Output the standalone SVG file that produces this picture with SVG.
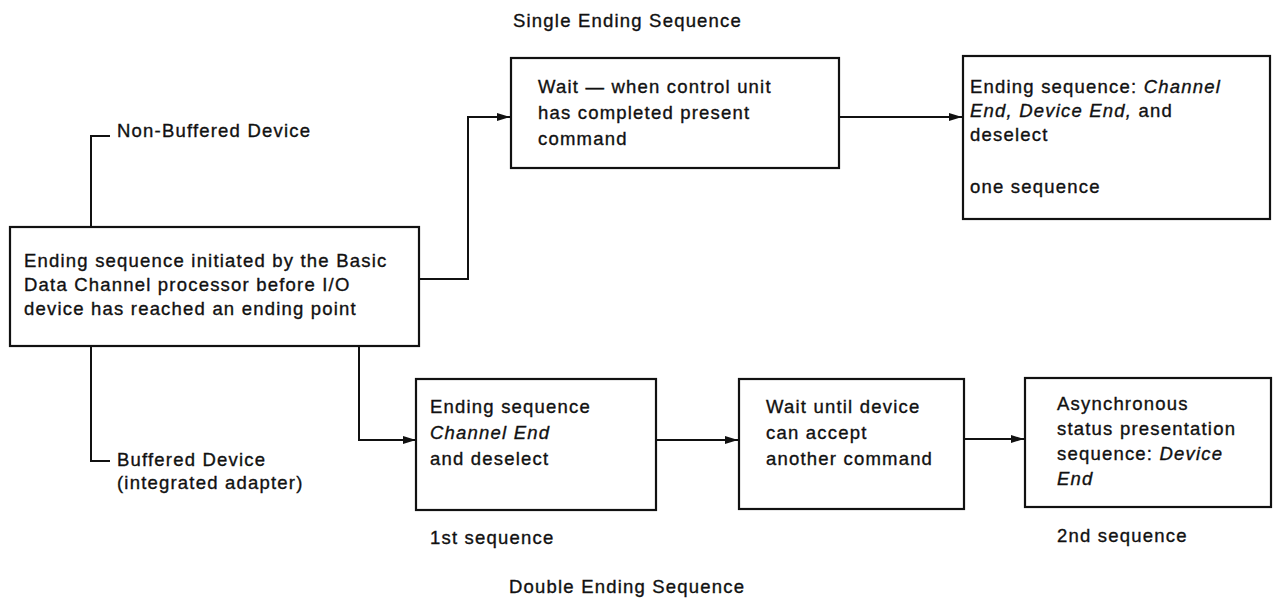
<svg xmlns="http://www.w3.org/2000/svg" width="1275" height="598" viewBox="0 0 1275 598">
<style>
text{font-family:"Liberation Sans",Arial,Helvetica,sans-serif;font-size:18.5px;letter-spacing:1.2px;fill:#111;stroke:#111;stroke-width:0.35}
.box{fill:#fff;stroke:#111;stroke-width:2.2}
.con{fill:none;stroke:#111;stroke-width:2}
.it{font-style:italic}
</style>
<defs>
<marker id="ah" markerUnits="userSpaceOnUse" markerWidth="14" markerHeight="10" refX="13" refY="4.5" orient="auto">
<path d="M0,0.5 L13,4.5 L0,8.5 z" fill="#111"/>
</marker>
</defs>
<rect width="1275" height="598" fill="#fff"/>
<g id="connectors">
<polyline class="con" points="110,136 91,136 91,227"/>
<polyline class="con" points="91,346 91,461 110,461"/>
<polyline class="con" points="419,279 468,279 468,117 510,117" marker-end="url(#ah)"/>
<line class="con" x1="839" y1="117" x2="962" y2="117" marker-end="url(#ah)"/>
<polyline class="con" points="359,346 359,440 416,440" marker-end="url(#ah)"/>
<line class="con" x1="656" y1="440" x2="738" y2="440" marker-end="url(#ah)"/>
<line class="con" x1="964" y1="439" x2="1024" y2="439" marker-end="url(#ah)"/>
</g>
<g id="labels">
<text x="117" y="137">Non-Buffered Device</text>
<text x="117" y="466">Buffered Device</text>
<text x="117" y="489">(integrated adapter)</text>
<text x="513" y="27">Single Ending Sequence</text>
<text x="430" y="544">1st sequence</text>
<text x="1057" y="542">2nd sequence</text>
<text x="509" y="593">Double Ending Sequence</text>
</g>
<g id="node-start">
<rect class="box" x="10" y="227" width="409" height="119"/>
<text x="24" y="267">Ending sequence initiated by the Basic</text>
<text x="24" y="291">Data Channel processor before I/O</text>
<text x="24" y="315">device has reached an ending point</text>
</g>
<g id="node-wait-single">
<rect class="box" x="511" y="58" width="328" height="110"/>
<text x="538" y="93">Wait — when control unit</text>
<text x="538" y="119">has completed present</text>
<text x="538" y="145">command</text>
</g>
<g id="node-single-end">
<rect class="box" x="963" y="56" width="307" height="163"/>
<text x="970" y="93">Ending sequence: <tspan class="it">Channel</tspan></text>
<text x="970" y="117"><tspan class="it">End, Device End,</tspan> and</text>
<text x="970" y="141">deselect</text>
<text x="970" y="193">one sequence</text>
</g>
<g id="node-first">
<rect class="box" x="416" y="379" width="240" height="131"/>
<text x="430" y="413">Ending sequence</text>
<text x="430" y="439" class="it">Channel End</text>
<text x="430" y="465">and deselect</text>
</g>
<g id="node-wait-device">
<rect class="box" x="739" y="379" width="225" height="130"/>
<text x="766" y="413">Wait until device</text>
<text x="766" y="439">can accept</text>
<text x="766" y="465">another command</text>
</g>
<g id="node-second">
<rect class="box" x="1025" y="378" width="246" height="129"/>
<text x="1057" y="410">Asynchronous</text>
<text x="1057" y="435">status presentation</text>
<text x="1057" y="460">sequence: <tspan class="it">Device</tspan></text>
<text x="1057" y="485" class="it">End</text>
</g>
</svg>
